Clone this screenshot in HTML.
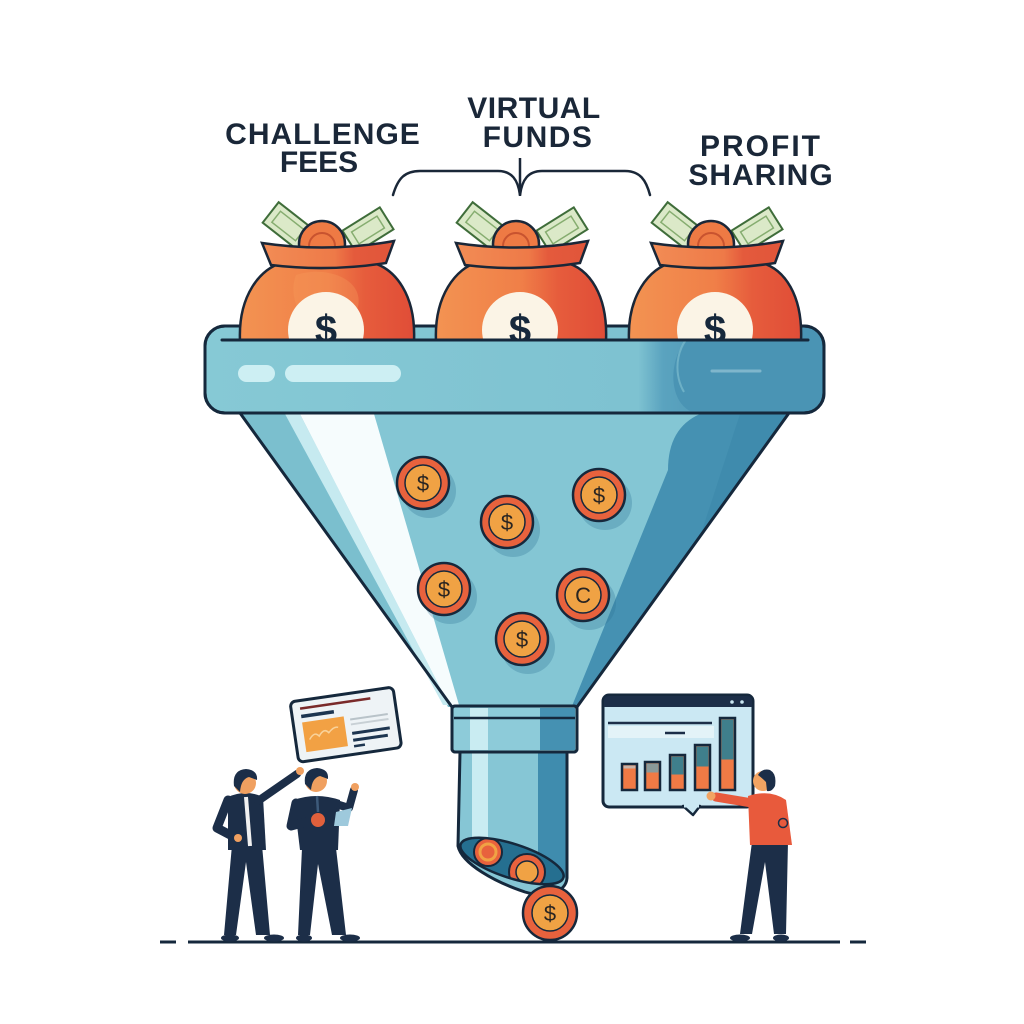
<!DOCTYPE html>
<html><head><meta charset="utf-8"><style>
html,body{margin:0;padding:0;background:#fff;}
svg{display:block;}
text{font-family:"Liberation Sans",Arial,sans-serif;}
</style></head><body>
<svg width="1024" height="1024" viewBox="0 0 1024 1024" xmlns="http://www.w3.org/2000/svg">
<defs>
<linearGradient id="bagg" x1="0" y1="0" x2="1" y2="0">
<stop offset="0" stop-color="#f39352"/><stop offset="0.5" stop-color="#f07f48"/><stop offset="0.72" stop-color="#e65c3c"/><stop offset="1" stop-color="#e04d37"/>
</linearGradient>
<linearGradient id="collar" x1="0" y1="0" x2="1" y2="0">
<stop offset="0" stop-color="#f28c55"/><stop offset="0.55" stop-color="#ee7a48"/><stop offset="0.7" stop-color="#e45a3c"/><stop offset="1" stop-color="#e0553a"/>
</linearGradient>
<linearGradient id="rimg" x1="0" y1="0" x2="1" y2="0">
<stop offset="0" stop-color="#86c9d5"/><stop offset="0.7" stop-color="#7ec2d1"/><stop offset="0.74" stop-color="#5aa3bf"/><stop offset="1" stop-color="#3f88a8"/>
</linearGradient>
<clipPath id="bagclip"><rect x="0" y="0" width="1024" height="341"/></clipPath>
<clipPath id="openclip"><ellipse cx="512" cy="861" rx="54" ry="17" transform="rotate(18 512 861)"/></clipPath>
</defs>

<!-- Labels -->
<g fill="#1a2738" font-weight="bold" font-size="30" text-anchor="middle">
<text x="323" y="144" letter-spacing="1">CHALLENGE</text>
<text x="319" y="172">FEES</text>
<text x="534" y="118" letter-spacing="0.5">VIRTUAL</text>
<text x="538" y="147" letter-spacing="1.5">FUNDS</text>
<text x="761" y="156" letter-spacing="2">PROFIT</text>
<text x="761" y="185" letter-spacing="1">SHARING</text>
</g>
<!-- Bracket -->
<path d="M393,195 C398,178 405,171 420,171 L498,171 C512,171 518,180 520,195 C522,180 528,171 542,171 L625,171 C640,171 646,180 650,195" fill="none" stroke="#1a2738" stroke-width="2.5" stroke-linecap="round"/>
<line x1="520" y1="158" x2="520" y2="196" stroke="#1a2738" stroke-width="2.5"/>

<!-- Funnel rim -->
<rect x="205" y="326" width="619" height="87" rx="20" fill="url(#rimg)" stroke="#15283c" stroke-width="3"/>
<path d="M700,328 C668,345 665,398 690,411 L805,411 Q822,411 822,392 L822,346 Q822,328 805,328 Z" fill="#4a94b4"/>
<path d="M700,328 C676,340 672,372 684,392" fill="none" stroke="#8fcbd8" stroke-width="2" opacity="0.5"/>
<rect x="238" y="365" width="37" height="17" rx="8.5" fill="#cdeff3"/>
<rect x="285" y="365" width="116" height="17" rx="8.5" fill="#cdeff3"/>
<line x1="712" y1="371" x2="760" y2="371" stroke="#7fb6cc" stroke-width="3" stroke-linecap="round"/>
<rect x="205" y="326" width="619" height="87" rx="20" fill="none" stroke="#15283c" stroke-width="3"/>

<!-- Bags -->
<g clip-path="url(#bagclip)">
<g transform="translate(326,0)">
<g transform="translate(-38,226) rotate(38)"><rect x="-22" y="-13" width="44" height="26" fill="#dbe9c8" stroke="#3f6d3a" stroke-width="2"/><rect x="-15" y="-7" width="30" height="14" fill="none" stroke="#86ad70" stroke-width="1.5"/></g>
<g transform="translate(42,230) rotate(-32)"><rect x="-22" y="-13" width="44" height="26" fill="#dbe9c8" stroke="#3f6d3a" stroke-width="2"/><rect x="-15" y="-7" width="30" height="14" fill="none" stroke="#86ad70" stroke-width="1.5"/></g>
<circle cx="-4" cy="244" r="23" fill="#ee7a44" stroke="#1a2738" stroke-width="2.5"/>
<circle cx="-4" cy="246" r="13" fill="none" stroke="#c8532f" stroke-width="2"/>
<path d="M-86,341 C-88,296 -66,268 -42,262 L44,262 C70,268 90,296 88,341 Z" fill="url(#bagg)" stroke="#1a2738" stroke-width="2.5"/>
<path d="M-30,275 C-10,268 20,272 30,290 C40,310 20,330 0,335 C-20,330 -40,300 -30,275 Z" fill="#f79a5c" opacity="0.35"/>
<path d="M-64,243 Q2,253 68,241 L60,263 Q2,272 -55,265 Z" fill="url(#collar)" stroke="#1a2738" stroke-width="2.5"/>
<circle cx="0" cy="330" r="38" fill="#fbf4e6"/>
<text x="0" y="343" text-anchor="middle" font-size="40" font-weight="bold" fill="#16283c">$</text>
</g>
<g transform="translate(520,0)">
<g transform="translate(-38,226) rotate(38)"><rect x="-22" y="-13" width="44" height="26" fill="#dbe9c8" stroke="#3f6d3a" stroke-width="2"/><rect x="-15" y="-7" width="30" height="14" fill="none" stroke="#86ad70" stroke-width="1.5"/></g>
<g transform="translate(42,230) rotate(-32)"><rect x="-22" y="-13" width="44" height="26" fill="#dbe9c8" stroke="#3f6d3a" stroke-width="2"/><rect x="-15" y="-7" width="30" height="14" fill="none" stroke="#86ad70" stroke-width="1.5"/></g>
<circle cx="-4" cy="244" r="23" fill="#ee7a44" stroke="#1a2738" stroke-width="2.5"/>
<circle cx="-4" cy="246" r="13" fill="none" stroke="#c8532f" stroke-width="2"/>
<path d="M-84,341 C-86,296 -64,268 -42,262 L44,262 C70,268 88,296 86,341 Z" fill="url(#bagg)" stroke="#1a2738" stroke-width="2.5"/>
<path d="M-64,243 Q2,253 68,241 L60,263 Q2,272 -55,265 Z" fill="url(#collar)" stroke="#1a2738" stroke-width="2.5"/>
<circle cx="0" cy="330" r="38" fill="#fbf4e6"/>
<text x="0" y="343" text-anchor="middle" font-size="40" font-weight="bold" fill="#16283c">$</text>
</g>
<g transform="translate(715,0)">
<g transform="translate(-38,226) rotate(38)"><rect x="-22" y="-13" width="44" height="26" fill="#dbe9c8" stroke="#3f6d3a" stroke-width="2"/><rect x="-15" y="-7" width="30" height="14" fill="none" stroke="#86ad70" stroke-width="1.5"/></g>
<g transform="translate(42,230) rotate(-32)"><rect x="-22" y="-13" width="44" height="26" fill="#dbe9c8" stroke="#3f6d3a" stroke-width="2"/><rect x="-15" y="-7" width="30" height="14" fill="none" stroke="#86ad70" stroke-width="1.5"/></g>
<circle cx="-4" cy="244" r="23" fill="#ee7a44" stroke="#1a2738" stroke-width="2.5"/>
<circle cx="-4" cy="246" r="13" fill="none" stroke="#c8532f" stroke-width="2"/>
<path d="M-86,341 C-88,296 -66,268 -42,262 L44,262 C70,268 88,296 86,341 Z" fill="url(#bagg)" stroke="#1a2738" stroke-width="2.5"/>
<path d="M-64,243 Q2,253 68,241 L60,263 Q2,272 -55,265 Z" fill="url(#collar)" stroke="#1a2738" stroke-width="2.5"/>
<circle cx="0" cy="330" r="38" fill="#fbf4e6"/>
<text x="0" y="343" text-anchor="middle" font-size="40" font-weight="bold" fill="#16283c">$</text>
</g>
</g>
<line x1="222" y1="340" x2="808" y2="340" stroke="#15283c" stroke-width="3" stroke-linecap="round"/>

<!-- Cone -->
<polygon points="240,413 789,413 577,707 452,707" fill="#84c6d4"/>
<polygon points="240,413 300,413 448,707 452,707" fill="#7bbfce"/>
<polygon points="285,414 300,414 449,705 443,705" fill="#c6eaf0"/>
<polygon points="300,414 374,414 459,705 449,705" fill="#f6fcfd"/>
<path d="M700,414 Q668,428 668,470 L572,706 L577,707 L789,413 Z" fill="#4591b2"/>
<path d="M740,414 L789,413 L700,537 Z" fill="#3a86a8" opacity="0.5"/>
<polygon points="240,413 789,413 577,707 452,707" fill="none" stroke="#15283c" stroke-width="3" stroke-linejoin="round"/>

<!-- Coins in funnel -->
<g>
<g transform="translate(423,483)"><circle cx="6" cy="8" r="27" fill="#2e7595" opacity="0.3"/><circle r="26" fill="#e8623d" stroke="#16283c" stroke-width="2.5"/><circle r="18" fill="#f0a244" stroke="#16283c" stroke-width="1.5"/><text y="8" text-anchor="middle" font-size="22" fill="#2a2522">$</text></g>
<g transform="translate(507,522)"><circle cx="6" cy="8" r="27" fill="#2e7595" opacity="0.3"/><circle r="26" fill="#e8623d" stroke="#16283c" stroke-width="2.5"/><circle r="18" fill="#f0a244" stroke="#16283c" stroke-width="1.5"/><text y="8" text-anchor="middle" font-size="22" fill="#2a2522">$</text></g>
<g transform="translate(599,495)"><circle cx="6" cy="8" r="27" fill="#2e7595" opacity="0.3"/><circle r="26" fill="#e8623d" stroke="#16283c" stroke-width="2.5"/><circle r="18" fill="#f0a244" stroke="#16283c" stroke-width="1.5"/><text y="8" text-anchor="middle" font-size="22" fill="#2a2522">$</text></g>
<g transform="translate(444,589)"><circle cx="6" cy="8" r="27" fill="#2e7595" opacity="0.3"/><circle r="26" fill="#e8623d" stroke="#16283c" stroke-width="2.5"/><circle r="18" fill="#f0a244" stroke="#16283c" stroke-width="1.5"/><text y="8" text-anchor="middle" font-size="22" fill="#2a2522">$</text></g>
<g transform="translate(583,595)"><circle cx="6" cy="8" r="27" fill="#2e7595" opacity="0.3"/><circle r="26" fill="#e8623d" stroke="#16283c" stroke-width="2.5"/><circle r="18" fill="#f0a244" stroke="#16283c" stroke-width="1.5"/><text y="8" text-anchor="middle" font-size="22" fill="#2a2522">C</text></g>
<g transform="translate(522,639)"><circle cx="6" cy="8" r="27" fill="#2e7595" opacity="0.3"/><circle r="26" fill="#e8623d" stroke="#16283c" stroke-width="2.5"/><circle r="18" fill="#f0a244" stroke="#16283c" stroke-width="1.5"/><text y="8" text-anchor="middle" font-size="22" fill="#2a2522">$</text></g>
</g>

<!-- Tube -->
<path d="M460,752 L567,752 L567,878 C566,893 545,898 525,892 C495,882 462,864 458,846 Z" fill="#86c6d5"/>
<rect x="472" y="752" width="16" height="88" fill="#c9ecf2"/>
<path d="M538,752 L567,752 L567,878 L538,872 Z" fill="#3f8cae"/>
<path d="M460,752 L567,752 L567,878 C566,893 545,898 525,892 C495,882 462,864 458,846 Z" fill="none" stroke="#15283c" stroke-width="3" stroke-linejoin="round"/>
<ellipse cx="512" cy="861" rx="54" ry="17" transform="rotate(18 512 861)" fill="#256f90"/>
<g clip-path="url(#openclip)">
<circle cx="488" cy="852" r="14" fill="#e8623d" stroke="#16283c" stroke-width="2"/>
<circle cx="488" cy="852" r="8" fill="none" stroke="#f0a244" stroke-width="3"/>
<circle cx="527" cy="872" r="18" fill="#e8623d" stroke="#16283c" stroke-width="2"/>
<circle cx="527" cy="872" r="11" fill="#f0a244" stroke="#16283c" stroke-width="1.5"/>
</g>
<ellipse cx="512" cy="861" rx="54" ry="17" transform="rotate(18 512 861)" fill="none" stroke="#15283c" stroke-width="2.5"/>
<!-- Neck band -->
<rect x="452" y="706" width="125" height="46" rx="3" fill="#8dcbd9" stroke="#15283c" stroke-width="3"/>
<rect x="470" y="708" width="18" height="42" fill="#c9ecf2"/>
<rect x="540" y="708" width="35" height="42" fill="#4591b2"/>
<line x1="454" y1="718" x2="575" y2="718" stroke="#15283c" stroke-width="2.5"/>
<rect x="452" y="706" width="125" height="46" rx="3" fill="none" stroke="#15283c" stroke-width="3"/>

<!-- Falling coin -->
<g transform="translate(550,913)"><circle r="27" fill="#e8623d" stroke="#16283c" stroke-width="2.5"/><circle r="18" fill="#f0a244" stroke="#16283c" stroke-width="1.5"/><text y="8" text-anchor="middle" font-size="22" fill="#2a2522">$</text></g>

<!-- Ground -->
<line x1="188" y1="942" x2="840" y2="942" stroke="#15283c" stroke-width="3"/>
<line x1="160" y1="942" x2="176" y2="942" stroke="#15283c" stroke-width="3"/>
<line x1="850" y1="942" x2="866" y2="942" stroke="#15283c" stroke-width="3"/>

<!-- Left card -->
<g transform="translate(290,702) rotate(-8.3)">
<rect x="0" y="0" width="104" height="61" rx="5" fill="#eef3f6" stroke="#15283c" stroke-width="3"/>
<line x1="9" y1="8" x2="80" y2="8" stroke="#7a2a2a" stroke-width="2.5"/>
<line x1="9" y1="16" x2="42" y2="16" stroke="#1d3550" stroke-width="3.5"/>
<rect x="9" y="22" width="42" height="30" fill="#f2a144"/>
<path d="M14,40 q6,-8 10,-2 q6,-8 10,-2 q6,-6 10,-4" fill="none" stroke="#f9d29a" stroke-width="1.5"/>
<line x1="57" y1="26" x2="95" y2="26" stroke="#b9c3c9" stroke-width="2"/>
<line x1="57" y1="31" x2="95" y2="31" stroke="#c8d0d5" stroke-width="2"/>
<line x1="57" y1="40" x2="95" y2="40" stroke="#1d3550" stroke-width="3"/>
<line x1="57" y1="47" x2="92" y2="47" stroke="#1d3550" stroke-width="3"/>
<line x1="57" y1="53" x2="68" y2="53" stroke="#1d3550" stroke-width="2.5"/>
</g>

<!-- Person 1 -->
<g>
<path d="M232,845 L224,935 L236,935 L246,862 L256,935 L270,935 L262,845 Z" fill="#1c2e48"/>
<ellipse cx="230" cy="938" rx="9" ry="3.5" fill="#1c2e48"/>
<ellipse cx="274" cy="938" rx="10" ry="3.5" fill="#1c2e48"/>
<path d="M228,797 Q246,789 263,797 L266,850 L228,850 Z" fill="#1c2e48"/>
<path d="M228,800 L217,828 L236,838" fill="none" stroke="#1c2e48" stroke-width="9" stroke-linecap="round" stroke-linejoin="round"/>
<path d="M258,801 L297,774" fill="none" stroke="#1c2e48" stroke-width="8" stroke-linecap="round"/>
<circle cx="300" cy="771" r="4" fill="#f0a060"/>
<line x1="246" y1="797" x2="250" y2="846" stroke="#f1f1f1" stroke-width="4"/>
<circle cx="238" cy="838" r="4" fill="#f0a060"/>
<circle cx="245" cy="783" r="11" fill="#f0a060"/>
<path d="M234,786 Q232,770 246,769 Q258,770 257,780 L249,777 Q241,779 240,792 Z" fill="#1c2e48"/>
</g>
<!-- Person 2 -->
<g>
<path d="M302,848 L298,935 L310,935 L318,864 L332,935 L346,935 L336,848 Z" fill="#1c2e48"/>
<ellipse cx="304" cy="938" rx="8" ry="3.5" fill="#1c2e48"/>
<ellipse cx="350" cy="938" rx="10" ry="3.5" fill="#1c2e48"/>
<path d="M294,800 Q316,792 340,800 L338,850 L300,850 Z" fill="#1c2e48"/>
<path d="M296,803 L291,826 L314,820" fill="none" stroke="#1c2e48" stroke-width="9" stroke-linecap="round" stroke-linejoin="round"/>
<path d="M336,804 L349,808 L354,790" fill="none" stroke="#1c2e48" stroke-width="8" stroke-linecap="round" stroke-linejoin="round"/>
<circle cx="355" cy="787" r="4" fill="#f0a060"/>
<path d="M336,812 L352,808 L348,826 L334,826 Z" fill="#9ec9dc"/>
<circle cx="318" cy="820" r="7" fill="#e0603c"/>
<line x1="317" y1="796" x2="318" y2="812" stroke="#3d5a7a" stroke-width="2.5"/>
<circle cx="316" cy="781" r="11" fill="#f0a060"/>
<path d="M305,784 Q303,769 317,768 Q329,769 328,779 L320,776 Q312,778 311,790 Z" fill="#1c2e48"/>
</g>

<!-- Right chart -->
<g>
<rect x="603" y="695" width="150" height="112" rx="6" fill="#cbe8f3" stroke="#15283c" stroke-width="3"/>
<path d="M604,707 L604,701 Q604,696 609,696 L747,696 Q752,696 752,701 L752,707 Z" fill="#1c2e48"/>
<circle cx="732" cy="702" r="1.8" fill="#cbe8f3"/><circle cx="742" cy="702" r="1.8" fill="#cbe8f3"/>
<path d="M683,806 L693,815 L700,806 Z" fill="#cbe8f3" stroke="#15283c" stroke-width="2.5" stroke-linejoin="round"/>
<line x1="684" y1="806" x2="699" y2="806" stroke="#cbe8f3" stroke-width="3"/>
<rect x="608" y="726" width="106" height="12" fill="#e3f3f8"/>
<line x1="608" y1="723" x2="712" y2="723" stroke="#1c2e48" stroke-width="2.5"/>
<line x1="665" y1="733" x2="685" y2="733" stroke="#1c2e48" stroke-width="2.5"/>
<g stroke="#15283c" stroke-width="2.5">
<rect x="622" y="764" width="15" height="26" fill="#f07a45"/>
<rect x="645" y="762" width="15" height="28" fill="#f07a45"/>
<rect x="670" y="755" width="15" height="35" fill="#f07a45"/>
<rect x="695" y="745" width="15" height="45" fill="#f07a45"/>
<rect x="720" y="718" width="15" height="72" fill="#f07a45"/>
</g>
<rect x="623.5" y="765.5" width="12" height="3" fill="#c9b3a8"/>
<rect x="646.5" y="763.5" width="12" height="9" fill="#8a9a9a"/>
<rect x="671.5" y="756.5" width="12" height="18" fill="#3f7f8c"/>
<rect x="696.5" y="746.5" width="12" height="20" fill="#3f7f8c"/>
<rect x="721.5" y="719.5" width="12" height="40" fill="#3f7f8c"/>
</g>

<!-- Person right -->
<g>
<path d="M752,842 L740,934 L752,934 L765,862 L774,934 L786,934 L788,842 Z" fill="#1c2e48"/>
<ellipse cx="740" cy="938" rx="10" ry="3.5" fill="#1c2e48"/>
<ellipse cx="781" cy="938" rx="8" ry="3.5" fill="#1c2e48"/>
<path d="M748,796 Q770,789 786,800 L792,845 L750,845 Z" fill="#e85a3c"/>
<path d="M752,803 L716,797" fill="none" stroke="#e85a3c" stroke-width="9" stroke-linecap="round"/>
<circle cx="711" cy="796" r="4.5" fill="#f2a462"/>
<circle cx="783" cy="823" r="4.5" fill="none" stroke="#1c2e48" stroke-width="1.5"/>
<circle cx="763" cy="781" r="10" fill="#f2a462"/>
<path d="M758,775 Q762,768 770,770 Q777,774 775,786 Q772,792 767,791 L766,782 Q762,778 758,775 Z" fill="#1c2e48"/>
</g>
</svg>
</body></html>
